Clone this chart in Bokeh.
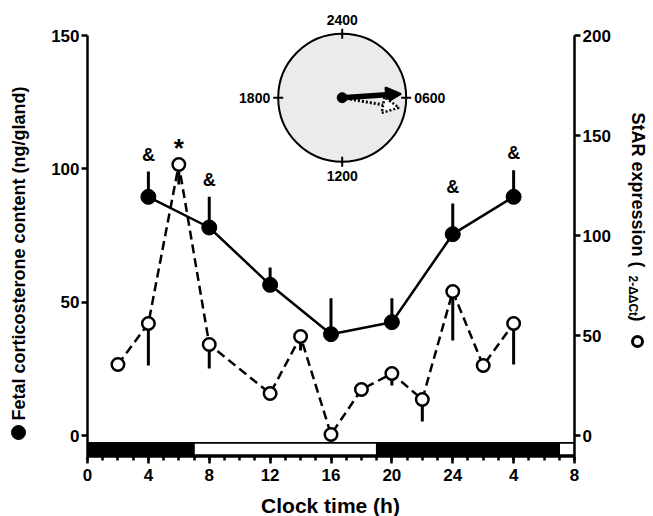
import math
from bokeh.plotting import figure
from bokeh.layouts import row, column
from bokeh.models import (Range1d, LinearAxis, FixedTicker, Label, Arrow,
                          NormalHead, ColumnDataSource)
from bokeh.embed import file_html
from bokeh.resources import INLINE
from bokeh.core.properties import value

# ---------------- data ----------------
cort_time = [4, 8, 12, 16, 20, 24, 28]
cort_mean = [89.5, 78, 56.5, 38, 42.5, 75.5, 89.5]
cort_sem = [9.5, 11.5, 6.5, 13.5, 9, 11.5, 10]
cort_sig = ["&", "&", "", "", "", "&", "&"]

star_time = [2, 4, 6, 8, 12, 14, 16, 18, 20, 22, 24, 26, 28]
star_mean = [35.5, 56, 135.5, 45.5, 21, 49.5, 0.5, 23, 31, 18, 72, 35, 56]
star_sem = [3, 21, 10, 12, 3, 7, 0, 2, 6, 11, 24.5, 3, 20.5]
star_sig = ["", "", "*", "", "", "", "", "", "", "", "", "", ""]

x_ticks = [0, 4, 8, 12, 16, 20, 24, 28, 32]
x_tick_labels = ["0", "4", "8", "12", "16", "20", "24", "4", "8"]
left_ticks = [0, 50, 100, 150]
right_ticks = [0, 50, 100, 150, 200]

light_start = [7, 31]
light_end = [19, 32]

clock_hours = [0, 6, 12, 18]
clock_labels = ["2400", "0600", "1200", "1800"]
phase_hour = [5.75, 6.67]      # corticosterone (solid), StAR (dotted)
phase_length = [0.92, 0.90]

# ---------------- layout (page pixels) ----------------
TOTAL_W, TOTAL_H = 652, 516
BH = 26                              # bottom strip for the x title
H = TOTAL_H - BH                     # height of the plot row
LW, RW = 40, 39                      # side strips for the y titles
MW = TOTAL_W - LW - RW               # main figure width
PFL, PFR, PFT, PFB = 87, 574, 10, 456  # frame edges on the page
X0, X1 = 0, 32
PX_X = (PFR - PFL) / (X1 - X0)
PX_Y = 400 / 150                     # left axis px per unit
ZERO_Y = 435                         # page y of the 0 line
YL1, YL0 = (ZERO_Y - PFT) / PX_Y, (ZERO_Y - PFB) / PX_Y
YR1, YR0 = (ZERO_Y - PFT) / 2.0, (ZERO_Y - PFB) / 2.0
FONT = "Liberation Sans"


def dx(page_x):
    return X0 + (page_x - PFL) / PX_X


def dy(page_y):
    return YL1 - (page_y - PFT) / PX_Y


p = figure(width=MW, height=H, output_backend="svg", toolbar_location=None,
           x_range=Range1d(X0, X1), y_range=Range1d(YL0, YL1),
           min_border_left=PFL - LW, min_border_right=LW + MW - PFR,
           min_border_top=PFT, min_border_bottom=H - PFB)
p.extra_y_ranges = {"star": Range1d(YR0, YR1)}
p.outline_line_color = None
p.xgrid.visible = False
p.ygrid.visible = False


def style_axis(ax):
    ax.axis_line_width = 2.5
    ax.axis_line_color = "black"
    ax.major_tick_line_width = 2.5
    ax.major_tick_line_color = "black"
    ax.major_tick_in = 0
    ax.major_label_text_font = FONT
    ax.major_label_text_font_style = "bold"
    ax.major_label_text_font_size = "17px"
    ax.major_label_text_color = "black"


xa = p.xaxis[0]
style_axis(xa)
xa.ticker = FixedTicker(ticks=x_ticks, minor_ticks=list(range(0, 33)))
xa.major_label_overrides = {t: l for t, l in zip(x_ticks, x_tick_labels)}
xa.major_tick_out = 7
xa.minor_tick_out = 4
xa.minor_tick_in = 0
xa.minor_tick_line_width = 2.5
xa.minor_tick_line_color = "black"
xa.major_label_standoff = 5
xa.bounds = (X0, X1)

ya = p.yaxis[0]
style_axis(ya)
ya.ticker = FixedTicker(ticks=left_ticks)
ya.minor_tick_line_color = None
ya.major_tick_out = 6
ya.major_label_standoff = 2
ya.bounds = (YL0, 150)

ra = LinearAxis(y_range_name="star", ticker=FixedTicker(ticks=right_ticks))
style_axis(ra)
ra.minor_tick_line_color = None
ra.major_tick_out = 6
ra.major_label_standoff = 2
ra.bounds = (YR0, 200)
p.add_layout(ra, "right")

# ---------------- light / dark bar ----------------
p.quad(left=[X0], right=[X1], bottom=[YL0], top=[dy(441.5)],
       fill_color="black", line_color=None)
p.quad(left=light_start, right=light_end,
       bottom=[dy(454.5)] * len(light_start), top=[dy(442.5)] * len(light_start),
       fill_color="white", line_color="black", line_width=1.5)

# ---------------- StAR (open, dashed) ----------------
star_src = ColumnDataSource(dict(
    x=star_time, y=star_mean,
    ylo=[m - s for m, s in zip(star_mean, star_sem)], sig=star_sig))
p.line("x", "y", source=star_src, y_range_name="star", line_color="black",
       line_width=2.5, line_dash="9 5")
p.segment(x0="x", y0="y", x1="x", y1="ylo", source=star_src,
          y_range_name="star", line_color="black", line_width=3)

# ---------------- corticosterone (filled, solid) ----------------
cort_src = ColumnDataSource(dict(
    x=cort_time, y=cort_mean,
    yhi=[m + s for m, s in zip(cort_mean, cort_sem)], sig=cort_sig))
p.line("x", "y", source=cort_src, line_color="black", line_width=2.5)
p.segment(x0="x", y0="y", x1="x", y1="yhi", source=cort_src,
          line_color="black", line_width=3)
p.scatter("x", "y", source=cort_src, size=15, marker="circle",
          fill_color="black", line_color="black")

p.scatter("x", "y", source=star_src, y_range_name="star", size=12.5,
          marker="circle", fill_color="white", line_color="black",
          line_width=2.5)

# significance marks
p.text("x", "yhi", text="sig", source=cort_src, text_font=value(FONT),
       text_font_style="bold", text_font_size="18px", text_align="center",
       text_baseline="middle", y_offset=-17, text_color="black")
p.text("x", "y", text="sig", source=star_src, y_range_name="star",
       text_font=value(FONT), text_font_style="bold", text_font_size="26px",
       text_align="center", text_baseline="middle", y_offset=-17,
       text_color="black")

# ---------------- inset clock ----------------
CX_P, CY_P, R = 341.7, 97.2, 64
cx, cy = dx(CX_P), dy(CY_P)
p.scatter([cx], [cy], size=2 * R, marker="circle", fill_color="#ebebeb",
          line_color="black", line_width=2)
tick_x0, tick_y0, tick_x1, tick_y1 = [], [], [], []
for h in clock_hours:
    a = h / 24 * 2 * math.pi
    sx, sy = math.sin(a), math.cos(a)
    tick_x0.append(cx + (R - 5) * sx / PX_X)
    tick_y0.append(cy + (R - 5) * sy / PX_Y)
    tick_x1.append(cx + (R + 5) * sx / PX_X)
    tick_y1.append(cy + (R + 5) * sy / PX_Y)
p.segment(tick_x0, tick_y0, tick_x1, tick_y1, line_color="black", line_width=2)

for h, t in zip(clock_hours, clock_labels):
    a = h / 24 * 2 * math.pi
    sx, sy = math.sin(a), math.cos(a)
    align = "center" if abs(sx) < 0.5 else ("left" if sx > 0 else "right")
    off = 14 if abs(sx) < 0.5 else 8
    p.add_layout(Label(x=cx + (R + off) * sx / PX_X, y=cy + (R + off) * sy / PX_Y,
                       text=t, text_font=FONT, text_font_style="bold",
                       text_font_size="14px", text_align=align,
                       text_baseline="middle", text_color="black"))

styles = [dict(dash="solid", width=5.5, fill="black", hsize=15, hw=2),
          dict(dash="2 2", width=3, fill="white", hsize=16, hw=2.5)]
for h, ln, st in zip(phase_hour, phase_length, styles):
    a = h / 24 * 2 * math.pi
    ex = cx + ln * R * math.sin(a) / PX_X
    ey = cy + ln * R * math.cos(a) / PX_Y
    head = NormalHead(size=st["hsize"], fill_color=st["fill"], line_color="black",
                      line_width=st["hw"], line_dash=st["dash"])
    p.add_layout(Arrow(end=head, x_start=cx, y_start=cy, x_end=ex, y_end=ey,
                       line_color="black", line_width=st["width"],
                       line_dash=st["dash"]))
p.scatter([cx], [cy], size=10, marker="circle", fill_color="black",
          line_color="black")


# ---------------- strips holding the axis titles ----------------
def strip(width, height, page_left, page_top, border_top=0, border_bottom=0):
    f = figure(width=width, height=height, output_backend="svg",
               toolbar_location=None,
               x_range=Range1d(page_left, page_left + width),
               y_range=Range1d(page_top + height - border_bottom,
                               page_top + border_top),
               x_axis_type=None, y_axis_type=None,
               min_border_left=0, min_border_right=0,
               min_border_top=border_top, min_border_bottom=border_bottom)
    f.outline_line_color = None
    f.xgrid.visible = False
    f.ygrid.visible = False
    return f


def lab(f, text, px, py, size, angle=0.0, align="center", baseline="middle"):
    f.add_layout(Label(x=px, y=py, text=text, text_font=FONT,
                       text_font_style="bold", text_font_size=size,
                       angle=angle, text_align=align, text_baseline=baseline,
                       text_color="black"))


left = strip(LW, H, 0, 0, PFT, H - PFB)
left.scatter([18], [432], size=14, marker="circle", fill_color="black",
             line_color="black")
lab(left, "Fetal corticosterone content (ng/gland)", 18, 420, "18px",
    angle=math.pi / 2, align="left")

right = strip(RW, H, LW + MW, 0, PFT, H - PFB)
lab(right, "StAR expression (", 637, 112, "18px", angle=-math.pi / 2, align="left")
lab(right, "2-\u0394\u0394Ct", 632, 275, "12px", angle=-math.pi / 2, align="left")
lab(right, ")", 637, 315, "18px", angle=-math.pi / 2, align="left")
right.scatter([637], [341], size=10, marker="circle", fill_color="white",
              line_color="black", line_width=3)

bottom = strip(TOTAL_W, BH, 0, H)
lab(bottom, "Clock time (h)", 330, 505, "21px")

layout = column(row(left, p, right), bottom)
open("out.html", "w").write(file_html(layout, INLINE))
